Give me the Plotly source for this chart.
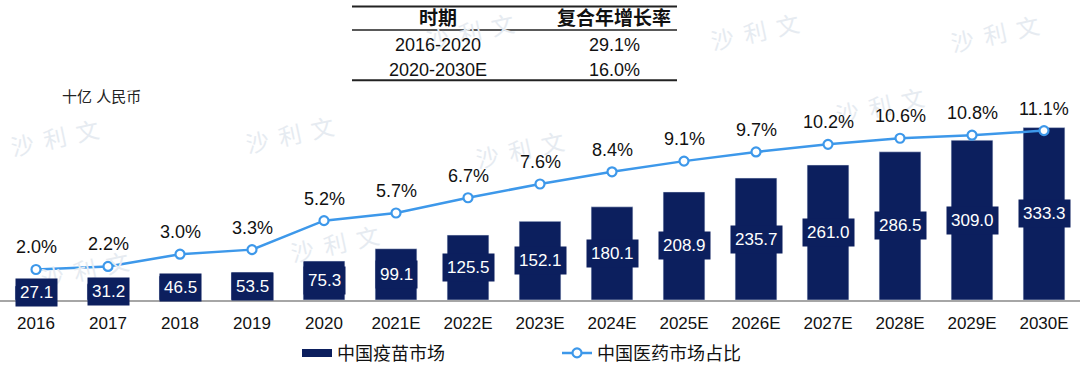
import plotly.graph_objects as go

# ---------------- data ----------------
years = ["2016", "2017", "2018", "2019", "2020", "2021E", "2022E", "2023E",
         "2024E", "2025E", "2026E", "2027E", "2028E", "2029E", "2030E"]
vaccine_market = [27.1, 31.2, 46.5, 53.5, 75.3, 99.1, 125.5, 152.1,
                  180.1, 208.9, 235.7, 261.0, 286.5, 309.0, 333.3]
pharma_share = [2.0, 2.2, 3.0, 3.3, 5.2, 5.7, 6.7, 7.6,
                8.4, 9.1, 9.7, 10.2, 10.6, 10.8, 11.1]
cagr_periods = ["2016-2020", "2020-2030E"]
cagr_values = ["29.1%", "16.0%"]
table_header = ["时期", "复合年增长率"]
unit_label = "十亿 人民币"
bar_name = "中国疫苗市场"
line_name = "中国医药市场占比"

# ---------------- style ----------------
W, H = 1080, 372
M_T, M_B, M_L, M_R = 100, 69, 0, 0
PLOT_H = H - M_T - M_B
BAR_COLOR = "#0c1f5e"
LINE_COLOR = "#3d98ea"
FONT = "Liberation Sans, Arial, Noto Sans CJK SC, sans-serif"


def px_to_paper_y(y):
    return (H - M_B - y) / PLOT_H


def px_to_paper_x(x):
    return (x - M_L) / (W - M_L - M_R)


fig = go.Figure()
fig.add_trace(go.Bar(
    x=years, y=vaccine_market, name=bar_name, marker_color=BAR_COLOR,
    width=0.58, yaxis="y", hoverinfo="x+y", showlegend=False,
))
# legend entry for the bars, drawn as a wide flat swatch like the reference
fig.add_trace(go.Scatter(
    x=[None], y=[None], name=bar_name, mode="lines",
    line=dict(color=BAR_COLOR, width=8), showlegend=True, hoverinfo="skip",
))
fig.add_trace(go.Scatter(
    x=years, y=pharma_share, name=line_name, yaxis="y2",
    mode="lines+markers",
    line=dict(color=LINE_COLOR, width=2.5),
    marker=dict(size=9, color="white", line=dict(color=LINE_COLOR, width=2.2)),
))

annotations = []
shapes = []


def paper_text(text, x, y, size, color="#111111", xanchor="center", family=FONT, angle=0):
    return dict(
        text=text, xref="paper", yref="paper",
        x=px_to_paper_x(x), y=px_to_paper_y(y), showarrow=False,
        xanchor=xanchor, yanchor="middle", textangle=angle,
        font=dict(family=family, size=size, color=color),
    )


# watermarks (faint)
wm_positions = [(55, 138), (290, 135), (520, 150), (755, 30), (995, 32),
                (335, 245), (85, 272), (470, 30), (880, 105)]
for (wx, wy) in wm_positions:
    annotations.append(paper_text("沙  利  文", wx, wy, 23, color="#e6ebf1",
                                  family="Noto Sans CJK SC", angle=-12))

# bar value labels (boxes)
for i, v in enumerate(vaccine_market):
    annotations.append(dict(
        x=i, y=v / 2, xref="x", yref="y", text=f"{v:.1f}", showarrow=False,
        xanchor="center", yanchor="middle",
        font=dict(family=FONT, size=17, color="white"),
        bgcolor=BAR_COLOR, borderpad=4,
    ))

# line value labels
for i, v in enumerate(pharma_share):
    annotations.append(dict(
        x=i, y=v, xref="x", yref="y2", text=f"{v:.1f}%", showarrow=False,
        xanchor="center", yanchor="middle",
        font=dict(family=FONT, size=18, color="#111111"), yshift=22,
    ))

# unit label
annotations.append(paper_text(unit_label, 60, 96, 15, color="#222222", xanchor="left"))

# CAGR table
col_x = [438, 614]
row_y = [44, 70]
for cx, htxt in zip(col_x, table_header):
    annotations.append(paper_text(f"<b>{htxt}</b>", cx, 17, 19))
for ry, per, val in zip(row_y, cagr_periods, cagr_values):
    annotations.append(paper_text(per, col_x[0], ry, 18))
    annotations.append(paper_text(val, col_x[1], ry, 18))
for ly, lw in [(5, 2), (29, 1.5), (80, 2)]:
    shapes.append(dict(
        type="line", xref="paper", yref="paper",
        x0=px_to_paper_x(352), x1=px_to_paper_x(677),
        y0=px_to_paper_y(ly), y1=px_to_paper_y(ly),
        line=dict(color="#222222", width=lw),
    ))

fig.update_layout(
    width=W, height=H,
    margin=dict(l=M_L, r=M_R, t=M_T, b=M_B),
    paper_bgcolor="white", plot_bgcolor="white",
    font=dict(family=FONT, color="#111111"),
    showlegend=True,
    legend=dict(
        orientation="h", x=px_to_paper_x(297), y=px_to_paper_y(357),
        xanchor="left", yanchor="middle", entrywidth=215,
        font=dict(family=FONT, size=18, color="#111111"),
        bgcolor="rgba(0,0,0,0)",
    ),
    xaxis=dict(
        type="category", range=[-0.5, len(years) - 0.5],
        showgrid=False, showline=True, linecolor="#a6a6a6", linewidth=1.5,
        ticks="", tickfont=dict(family=FONT, size=17, color="#111111"),
        ticklabelstandoff=7,
    ),
    yaxis=dict(range=[0, PLOT_H / 0.525], visible=False, showgrid=False),
    yaxis2=dict(range=[0, PLOT_H / 15.49], overlaying="y", visible=False,
                showgrid=False),
    annotations=annotations,
    shapes=shapes,
)

fig.write_html(
    "out.html",
    config={"displayModeBar": False},
    post_script="document.body.style.margin='0';document.body.style.overflow='hidden';",
)
